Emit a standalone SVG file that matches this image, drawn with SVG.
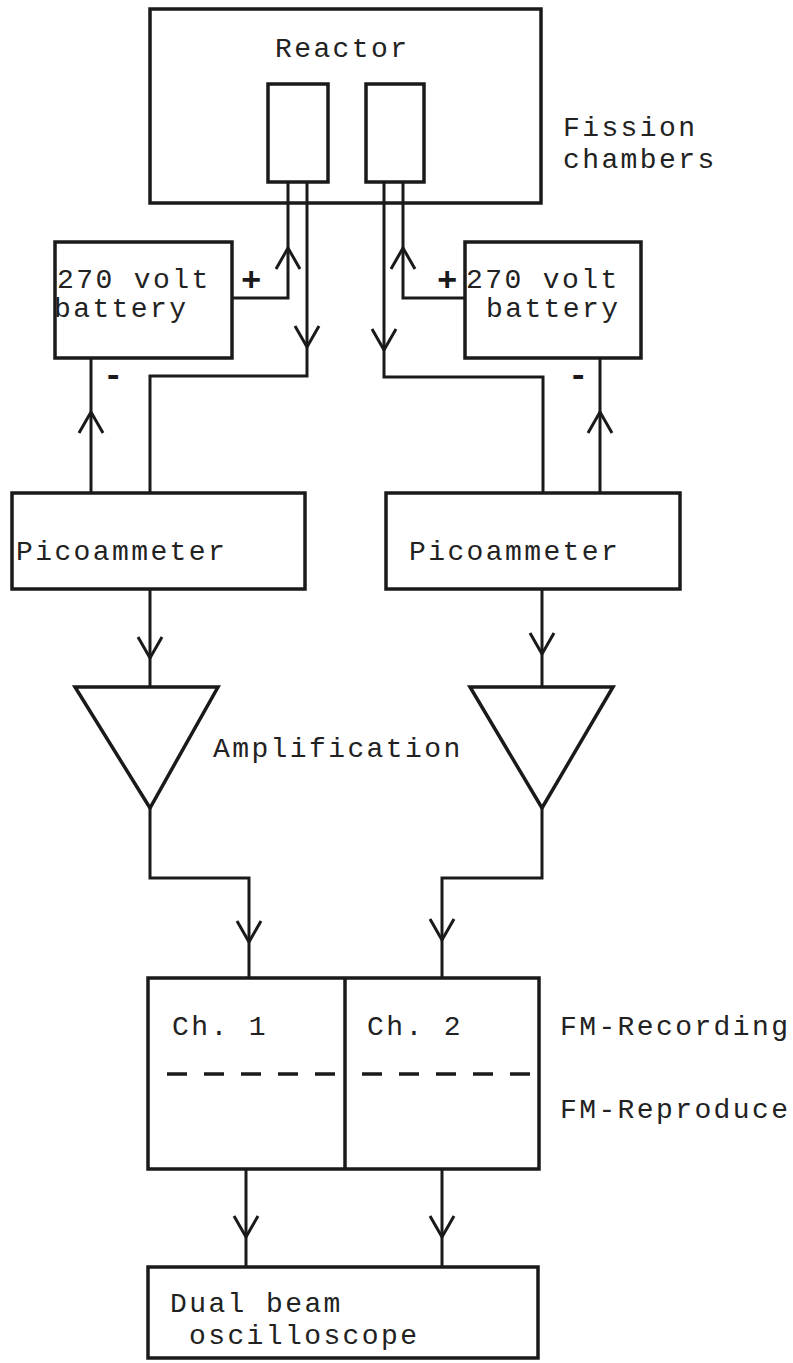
<svg xmlns="http://www.w3.org/2000/svg" xmlns:xlink="http://www.w3.org/1999/xlink" width="793" height="1363" viewBox="0 0 793 1363">
<style>
.box{fill:none;stroke:#1a1a1a;stroke-width:3.5}
.w{fill:none;stroke:#1a1a1a;stroke-width:3}
.t{font-family:"Liberation Mono","DejaVu Sans Mono",monospace;font-size:28px;letter-spacing:2.4px;fill:#222}
.s{font-family:"Liberation Mono","DejaVu Sans Mono",monospace;font-size:34px;font-weight:bold;fill:#1a1a1a}
.dash{fill:none;stroke:#1a1a1a;stroke-width:3.5;stroke-dasharray:20 17}
</style>
<defs>
<path id="ad" d="M-12,-21 L0,0 L12,-21" fill="none" stroke="#1a1a1a" stroke-width="3"/>
<path id="au" d="M-12,21 L0,0 L12,21" fill="none" stroke="#1a1a1a" stroke-width="3"/>
</defs>
<rect width="793" height="1363" fill="#ffffff"/>

<g id="reactor">
<rect class="box" x="150" y="9" width="391" height="194"/>
<text class="t" x="275" y="57">Reactor</text>
</g>
<g id="chamber1"><rect class="box" x="268" y="84" width="60" height="98"/></g>
<g id="chamber2"><rect class="box" x="366" y="84" width="58" height="98"/></g>
<g id="fission-label">
<text class="t" x="563" y="136">Fission</text>
<text class="t" x="563" y="168">chambers</text>
</g>

<g id="battery1">
<rect class="box" x="55" y="242" width="177" height="116"/>
<text class="t" x="57" y="288">270 volt</text>
<text class="t" x="54" y="317">battery</text>
<text class="s" x="241" y="291">+</text>
<text class="s" x="103" y="386">-</text>
</g>
<g id="battery2">
<rect class="box" x="465" y="242" width="176" height="116"/>
<text class="t" x="466" y="288">270 volt</text>
<text class="t" x="486" y="317">battery</text>
<text class="s" x="437" y="291">+</text>
<text class="s" x="568" y="386">-</text>
</g>

<g id="picoammeter1">
<rect class="box" x="12" y="493" width="293" height="96"/>
<text class="t" x="16" y="560">Picoammeter</text>
</g>
<g id="picoammeter2">
<rect class="box" x="386" y="493" width="294" height="96"/>
<text class="t" x="409" y="560">Picoammeter</text>
</g>

<g id="amp1"><path class="box" d="M75,687 H218 L150,808 Z"/></g>
<g id="amp2"><path class="box" d="M470,687 H613 L542,808 Z"/></g>
<g id="amp-label"><text class="t" x="213" y="757">Amplification</text></g>

<g id="fm">
<rect class="box" x="148" y="978" width="391" height="191"/>
<line class="box" x1="345" y1="978" x2="345" y2="1169"/>
<line class="dash" x1="167" y1="1074" x2="343" y2="1074"/>
<line class="dash" x1="362" y1="1074" x2="531" y2="1074"/>
<text class="t" x="172" y="1035">Ch. 1</text>
<text class="t" x="367" y="1035">Ch. 2</text>
</g>
<g id="fm-labels">
<text class="t" x="560" y="1035">FM-Recording</text>
<text class="t" x="560" y="1118">FM-Reproduce</text>
</g>

<g id="oscilloscope">
<rect class="box" x="148" y="1267" width="390" height="91"/>
<text class="t" x="170" y="1312">Dual beam</text>
<text class="t" x="189" y="1344">oscilloscope</text>
</g>

<g id="connectors">
<path class="w" d="M288,182 V298 H232"/>
<path class="w" d="M307,182 V376 H150 V493"/>
<path class="w" d="M384,182 V377 H543 V493"/>
<path class="w" d="M403,182 V298 H465"/>
<path class="w" d="M91,358 V493"/>
<path class="w" d="M600,358 V493"/>
<path class="w" d="M150,589 V687"/>
<path class="w" d="M542,589 V687"/>
<path class="w" d="M150,808 V878 H249 V978"/>
<path class="w" d="M542,808 V878 H442 V978"/>
<path class="w" d="M246,1169 V1267"/>
<path class="w" d="M442,1169 V1267"/>
<use xlink:href="#au" x="288" y="248"/>
<use xlink:href="#ad" x="307" y="347"/>
<use xlink:href="#ad" x="384" y="350"/>
<use xlink:href="#au" x="403" y="248"/>
<use xlink:href="#au" x="91" y="412"/>
<use xlink:href="#au" x="600" y="412"/>
<use xlink:href="#ad" x="150" y="658"/>
<use xlink:href="#ad" x="542" y="654"/>
<use xlink:href="#ad" x="249" y="942"/>
<use xlink:href="#ad" x="442" y="940"/>
<use xlink:href="#ad" x="246" y="1237"/>
<use xlink:href="#ad" x="442" y="1237"/>
</g>
</svg>
